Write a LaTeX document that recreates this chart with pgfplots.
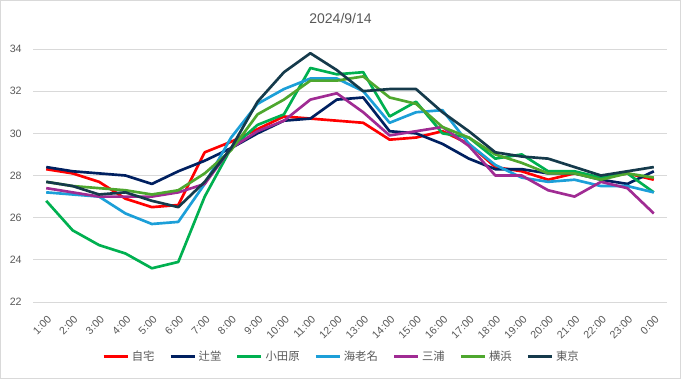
\documentclass[border=0pt]{standalone}
\usepackage{fontspec}
\setmainfont{Liberation Sans}
\newfontfamily\cjk{Noto Sans CJK JP}
\usepackage{pgfplots}
\usepackage{pgfplotstable}
\pgfplotsset{compat=1.18}
\definecolor{cRed}{HTML}{FF0000}
\definecolor{cNavy}{HTML}{002060}
\definecolor{cGreen}{HTML}{00B050}
\definecolor{cBlue}{HTML}{1C9FD8}
\definecolor{cPurple}{HTML}{A02B93}
\definecolor{cLime}{HTML}{4EA72E}
\definecolor{cTeal}{HTML}{153A4B}
\definecolor{txt}{HTML}{595959}
\definecolor{grd}{HTML}{D9D9D9}
\pgfplotstableread{
h jitaku tsujido odawara ebina miura yokohama tokyo
0  28.3 28.4 26.8 27.2 27.4 27.7 27.7
1  28.1 28.2 25.4 27.1 27.2 27.5 27.5
2  27.7 28.1 24.7 27.0 27.0 27.4 27.1
3  26.9 28.0 24.3 26.2 27.0 27.3 27.2
4  26.5 27.6 23.6 25.7 27.0 27.1 26.8
5  26.6 28.2 23.9 25.8 27.2 27.3 26.5
6  29.1 28.7 27.0 27.6 27.6 28.1 27.7
7  29.6 29.3 29.3 29.8 29.3 29.2 29.3
8  30.2 30.0 30.4 31.4 30.1 30.9 31.5
9  30.8 30.6 30.9 32.1 30.6 31.6 32.9
10 30.7 30.7 33.1 32.6 31.6 32.5 33.8
11 30.6 31.6 32.8 32.6 31.9 32.5 33.0
12 30.5 31.7 32.9 32.0 31.0 32.7 32.0
13 29.7 30.1 30.8 30.5 29.9 31.7 32.1
14 29.8 30.0 31.5 31.0 30.1 31.4 32.1
15 30.1 29.5 30.0 31.1 30.3 30.3 31.0
16 29.5 28.8 29.8 29.5 29.4 29.8 30.1
17 28.4 28.3 28.8 28.5 28.0 29.0 29.1
18 28.2 28.3 29.0 27.9 28.0 28.6 28.9
19 27.8 28.1 28.2 27.7 27.3 28.1 28.8
20 28.1 28.1 28.2 27.8 27.0 28.1 28.4
21 27.9 27.8 27.9 27.5 27.7 27.8 28.0
22 28.1 27.6 28.1 27.5 27.4 28.1 28.2
23 27.8 28.2 27.2 27.2 26.2 27.9 28.4
}\data
\begin{document}
\begin{tikzpicture}
\path[use as bounding box] (0,0) rectangle (510.75pt,284.25pt);
\draw[grd, line width=0.75pt] (0.5pt,0.5pt) rectangle (510.25pt,283.75pt);
\node[txt, font=\fontsize{10.5}{12}\selectfont] at (255.4pt,270.75pt) {2024/9/14};
\begin{axis}[
  at={(24.75pt,57.75pt)}, anchor=south west,
  scale only axis, width=475.5pt, height=189.75pt,
  xmin=-0.5, xmax=23.5, ymin=22, ymax=34,
  ytick={22,24,...,34},
  xtick={0,...,23},
  xticklabels={1:00,2:00,3:00,4:00,5:00,6:00,7:00,8:00,9:00,10:00,11:00,12:00,13:00,14:00,15:00,16:00,17:00,18:00,19:00,20:00,21:00,22:00,23:00,0:00},
  major tick length=0pt,
  axis line style={draw=none},
  ymajorgrids, grid style={grd, line width=0.75pt},
  /pgf/number format/assume math mode=true,
  tick label style={txt, font=\fontsize{8}{9}\selectfont},
  x tick label style={rotate=45, anchor=north east, inner sep=0.5pt, yshift=-6.5pt, xshift=-6pt},
  y tick label style={xshift=-5pt},
  legend columns=7,
  legend style={at={(0.487,-0.217)}, anchor=center, draw=none, fill=none,
    font=\cjk\fontsize{8.5}{10}\selectfont, text=txt,
    /tikz/every even column/.append style={column sep=9pt}},
  legend image code/.code={\draw[#1, line width=2.2pt] (0pt,0pt) -- (18pt,0pt);},
  every axis plot/.append style={line width=2pt, line join=round, no markers},
]
\addplot[cRed] table[x=h, y=jitaku] {\data};
\addplot[cNavy] table[x=h, y=tsujido] {\data};
\addplot[cGreen] table[x=h, y=odawara] {\data};
\addplot[cBlue] table[x=h, y=ebina] {\data};
\addplot[cPurple] table[x=h, y=miura] {\data};
\addplot[cLime] table[x=h, y=yokohama] {\data};
\addplot[cTeal] table[x=h, y=tokyo] {\data};
\legend{自宅,辻堂,小田原,海老名,三浦,横浜,東京}
\end{axis}
\end{tikzpicture}
\end{document}
